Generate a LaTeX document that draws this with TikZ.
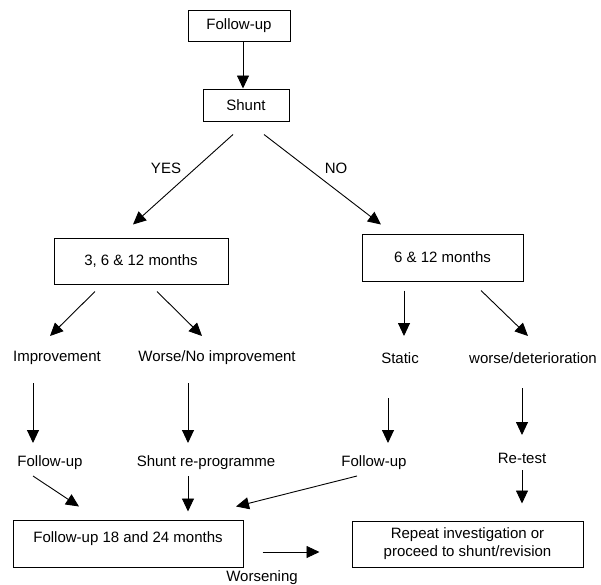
\documentclass[tikz,border=0pt]{standalone}
\usepackage{fontspec}
\setmainfont{Liberation Sans}
\usetikzlibrary{arrows.meta}

\tikzset{
  box/.style={draw, line width=1pt, inner sep=0pt, font=\fontsize{15}{18}\selectfont},
  lbl/.style={inner sep=0pt, font=\fontsize{15}{18}\selectfont},
  arr/.style={line width=0.9pt, -{Triangle[length=13pt,width=12pt]}}
}

\begin{document}
\begin{tikzpicture}[x=1pt, y=-1pt]
  \useasboundingbox (0,0) rectangle (601,584);
  % boxes
  \node[box, minimum width=102pt, minimum height=31pt] (fu) at (239,26) {Follow-up};
  \node[box, minimum width=86pt, minimum height=32pt] (shunt) at (246,105) {Shunt};
  \node[box, minimum width=174pt, minimum height=46pt] (mthree) at (141,261) {3, 6 \& 12 months};
  \node[box, minimum width=161pt, minimum height=47pt] (msix) at (442.5,257.5) {6 \& 12 months};
  \node[box, minimum width=230pt, minimum height=47pt, text height=11pt, text depth=13pt] (fuend) at (128,543.5) {Follow-up 18 and 24 months};
  \node[box, minimum width=231pt, minimum height=46pt, align=center] (repeat) at (467.5,544) {Repeat investigation or\\proceed to shunt/revision};
  % labels
  \node[lbl] (yes) at (166,168) {YES};
  \node[lbl] (no) at (336,168) {NO};
  \node[lbl] (impr) at (57,358) {Improvement};
  \node[lbl] (worse) at (217,358) {Worse/No improvement};
  \node[lbl] (static) at (400,358) {Static};
  \node[lbl] (deter) at (533,358) {worse/deterioration};
  \node[lbl] (fuleft) at (50,463) {Follow-up};
  \node[lbl] (reprog) at (206,463) {Shunt re-programme};
  \node[lbl] (furight) at (374,463) {Follow-up};
  \node[lbl] (retest) at (522,458) {Re-test};
  \node[lbl] (worsening) at (262,578) {Worsening};
  % arrows
  \draw[arr] ([xshift=4pt]fu.south) -- ([xshift=-3pt]shunt.north);
  \draw[arr] ([shift={(-13,13)}]shunt.south) -- ([shift={(-8,-13)}]mthree.north);
  \draw[arr] ([shift={(18,13)}]shunt.south) -- ([shift={(-61.5,-9)}]msix.north);
  \draw[arr] ([shift={(-46,7)}]mthree.south) -- ([shift={(-7,-22)}]impr.center);
  \draw[arr] ([shift={(16,7)}]mthree.south) -- ([shift={(-15,-22)}]worse.center);
  \draw[arr] ([shift={(-38.5,9)}]msix.south) -- ([shift={(4,-22)}]static.center);
  \draw[arr] ([shift={(38.5,9)}]msix.south) -- ([shift={(-5,-22)}]deter.center);
  \draw[arr] ([shift={(-24,25)}]impr.center) -- ([shift={(-17,-20)}]fuleft.center);
  \draw[arr] ([shift={(-29,25)}]worse.center) -- ([shift={(-18,-20)}]reprog.center);
  \draw[arr] ([shift={(-12,40)}]static.center) -- ([shift={(14,-20)}]furight.center);
  \draw[arr] ([shift={(-11,30)}]deter.center) -- ([shift={(0,-23)}]retest.center);
  \draw[arr] ([shift={(0,12)}]retest.center) -- ([shift={(54.5,-17)}]repeat.north);
  \draw[arr] ([shift={(-17,13)}]fuleft.center) -- ([shift={(-49,-13)}]fuend.north);
  \draw[arr] ([shift={(-18,13)}]reprog.center) -- ([shift={(60,-8)}]fuend.north);
  \draw[arr] ([shift={(-17,13)}]furight.center) -- ([shift={(108,-13)}]fuend.north);
  \draw[arr] ([shift={(19,8.5)}]fuend.east) -- ([shift={(-32,8)}]repeat.west);
\end{tikzpicture}
\end{document}
